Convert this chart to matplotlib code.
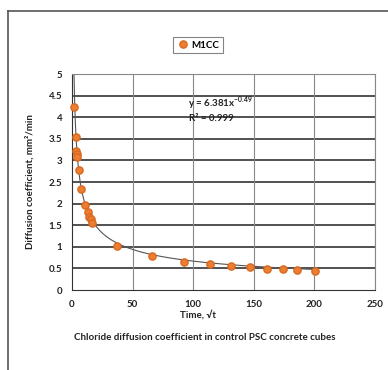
import numpy as np
import matplotlib
matplotlib.use("Agg")
import matplotlib.pyplot as plt
from matplotlib.lines import Line2D

# Data
time_sqrt = [1.6, 3.3, 3.6, 3.8, 4.0, 5.5, 7.4, 10.7, 13.0, 14.3, 15.4, 16.8,
             37.4, 65.7, 92.7, 113.6, 130.9, 146.6, 160.6, 173.8, 185.4, 200.5]
diff_coef = [4.24, 3.55, 3.22, 3.15, 3.07, 2.78, 2.33, 1.97, 1.80, 1.70, 1.64, 1.56,
             1.03, 0.79, 0.65, 0.60, 0.56, 0.53, 0.49, 0.49, 0.46, 0.43]
fit_a = 6.381
fit_b = -0.49
series_name = "M1CC"
x_ticks = [0, 50, 100, 150, 200, 250]
y_ticks = [0, 0.5, 1, 1.5, 2, 2.5, 3, 3.5, 4, 4.5, 5]

plt.rcParams['font.family'] = ['Lato', 'DejaVu Sans']

W, H = 388, 370
fig = plt.figure(figsize=(W/100, H/100), dpi=100)
fig.patch.set_facecolor('white')

# outer chart frame
fig.add_artist(Line2D([8/W, 8/W], [0, 1-11/H], transform=fig.transFigure, color='#555555', lw=1.2))
fig.add_artist(Line2D([8/W, 1], [1-11/H, 1-11/H], transform=fig.transFigure, color='#555555', lw=1.2))

ax = fig.add_axes([72/W, 1-290/H, (375-72)/W, (290-74)/H])
ax.set_xlim(0, 250)
ax.set_ylim(0, 5)
ax.set_xticks(x_ticks)
ax.set_yticks(y_ticks)
ax.set_xticklabels([str(t) for t in x_ticks])
ax.set_yticklabels([('%g' % t) for t in y_ticks])
ax.tick_params(length=0, labelsize=7, pad=7)
for lbl in ax.get_xticklabels() + ax.get_yticklabels():
    lbl.set_fontweight('bold')
    lbl.set_color('#222222')

for y in y_ticks[1:]:
    ax.axhline(y, color='#222222', lw=1.1, zorder=1)
for x in x_ticks[1:]:
    ax.axvline(x, color='#888888', lw=0.8, zorder=1)
for side in ['top', 'right']:
    ax.spines[side].set_color('#888888')
    ax.spines[side].set_linewidth(0.8)
ax.spines['left'].set_color('#333333')
ax.spines['bottom'].set_color('#333333')

xf = np.linspace(min(time_sqrt), max(time_sqrt), 400)
ax.plot(xf, fit_a * xf ** fit_b, color='#555555', lw=0.8, zorder=2)
ax.plot(time_sqrt, diff_coef, 'o', color='#ED7D31', markeredgecolor='#D86A20',
        markersize=5.2, zorder=3, label=series_name, clip_on=False)

ax.text(122, 4.33, r'y = 6.381x$^{\mathregular{-0.49}}$', ha='center', va='center', fontsize=7, fontweight='bold', color='#222222')
ax.text(115, 3.96, 'R² = 0.999', ha='center', va='center', fontsize=7, fontweight='bold', color='#222222')

ax.set_ylabel('Diffusion coefficient, mm²/min', fontsize=7, fontweight='bold', labelpad=10, color='#222222')

fig.text(198/W, 1-315/H, 'Time, √t', ha='center', va='center', fontsize=7, fontweight='bold', color='#222222')
fig.text(205/W, 1-337/H, 'Chloride diffusion coefficient in control PSC concrete cubes', ha='center', va='center', fontsize=7, fontweight='bold', color='#222222')

leg = fig.legend(handles=[Line2D([], [], marker='o', ls='', color='#ED7D31', markeredgecolor='#D86A20', markersize=5.2)],
                 labels=[series_name], loc='center', bbox_to_anchor=(198/W, 1-45/H),
                 fontsize=7, frameon=True, fancybox=False, handletextpad=0.3, borderpad=0.4,
                 handlelength=1.2)
leg.get_frame().set_edgecolor('#666666')
leg.get_frame().set_linewidth(0.8)
for t in leg.get_texts():
    t.set_fontweight('bold')

fig.savefig('out.png', dpi=100)
